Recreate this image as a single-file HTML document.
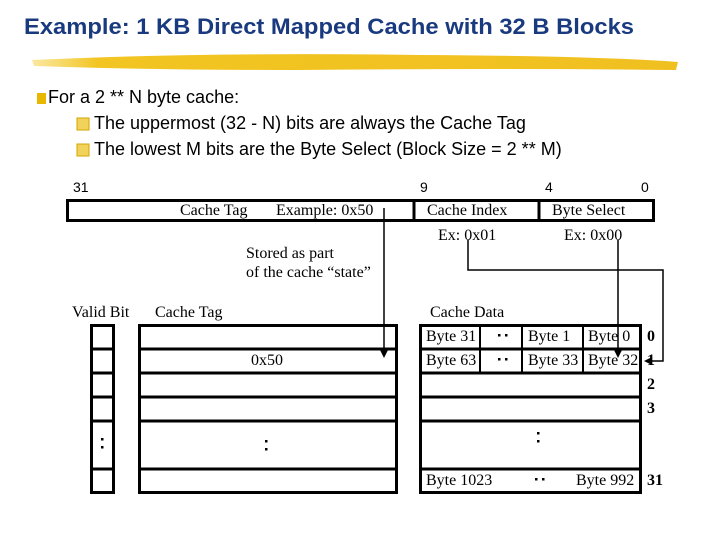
<!DOCTYPE html>
<html><head><meta charset="utf-8"><style>
body{margin:0;background:#fff;}
#c{position:relative;width:720px;height:540px;overflow:hidden;font-family:"Liberation Serif",serif;}
.t{position:absolute;white-space:nowrap;font-size:16px;color:#000;line-height:18px;}
.s{position:absolute;font-family:"Liberation Sans",sans-serif;font-size:18px;white-space:nowrap;}
</style></head><body><div id="c">
<div class="s" style="left:24px;top:14px;font-size:22px;font-weight:bold;color:#1a3a80;transform:scaleX(1.08);transform-origin:left;">Example: 1 KB Direct Mapped Cache with 32 B Blocks</div>
<svg style="position:absolute;left:0;top:0" width="720" height="540">
<defs><linearGradient id="g" x1="0" x2="1"><stop offset="0" stop-color="#f5d040" stop-opacity="0.5"/><stop offset="0.1" stop-color="#f2c522"/><stop offset="1" stop-color="#f0c020"/></linearGradient></defs>
<path d="M32 60 Q200 52 420 55 Q600 56 678 62 L676 70 Q500 68 300 70 Q150 70 34 66 Z" fill="url(#g)"/>
<g fill="none" stroke="#000">
<rect x="67.5" y="200.5" width="586" height="20" stroke-width="3"/>
<line x1="414" y1="200" x2="414" y2="221" stroke-width="3"/>
<line x1="539" y1="200" x2="539" y2="221" stroke-width="3"/>
<line x1="384" y1="208" x2="384" y2="352" stroke-width="1.5"/>
<polyline points="468,240 468,270 663,270 663,361 648,361" stroke-width="1.5"/>
<line x1="618" y1="240" x2="618" y2="352" stroke-width="1.5"/>
<rect x="91.5" y="325.5" width="22" height="167" stroke-width="3"/>
<rect x="139.5" y="325.5" width="257" height="167" stroke-width="3"/>
<rect x="420.5" y="325.5" width="220" height="167" stroke-width="3"/>
<path d="M91 349H113M91 373H113M91 397H113M91 421H113M91 469H113" stroke-width="3"/>
<path d="M139 349H397M139 373H397M139 397H397M139 421H397M139 469H397" stroke-width="3"/>
<path d="M420 349H641M420 373H641M420 397H641M420 421H641M420 469H641" stroke-width="3"/>
<path d="M480 325V373M522 325V373M583 325V373" stroke-width="2"/>
</g>
<g fill="#000">
<polygon points="380,350 388,350 384,358"/>
<polygon points="614,350 622,350 618,358"/>
<polygon points="644,361 652,357 652,365"/>
<rect x="498" y="334" width="2.5" height="2.5"/><rect x="505" y="334" width="2.5" height="2.5"/>
<rect x="498" y="358" width="2.5" height="2.5"/><rect x="505" y="358" width="2.5" height="2.5"/>
<rect x="535" y="478" width="2.5" height="2.5"/><rect x="542" y="478" width="2.5" height="2.5"/>
<rect x="101" y="438" width="2.5" height="2.5"/><rect x="101" y="446" width="2.5" height="2.5"/>
<rect x="265" y="440" width="2.5" height="2.5"/><rect x="265" y="448" width="2.5" height="2.5"/>
<rect x="537" y="432" width="2.5" height="2.5"/><rect x="537" y="440" width="2.5" height="2.5"/>
</g>
<rect x="37" y="93" width="9" height="11" fill="#e8b800"/>
<rect x="77" y="118" width="12" height="12" fill="#f2d35a" stroke="#d4a400"/>
<rect x="77" y="144" width="12" height="12" fill="#f2d35a" stroke="#d4a400"/>
</svg>
<div class="s" style="left:48px;top:87px;">For a 2 ** N byte cache:</div>
<div class="s" style="left:94px;top:113px;">The uppermost (32 - N) bits are always the Cache Tag</div>
<div class="s" style="left:94px;top:139px;">The lowest M bits are the Byte Select (Block Size = 2 ** M)</div>
<div class="s" style="left:73px;top:179px;font-size:14px;">31</div>
<div class="s" style="left:420px;top:179px;font-size:14px;">9</div>
<div class="s" style="left:545px;top:179px;font-size:14px;">4</div>
<div class="s" style="left:641px;top:179px;font-size:14px;">0</div>
<div class="t" style="left:180px;top:202px;">Cache Tag</div>
<div class="t" style="left:276px;top:202px;">Example: 0x50</div>
<div class="t" style="left:427px;top:202px;">Cache Index</div>
<div class="t" style="left:552px;top:202px;">Byte Select</div>
<div class="t" style="left:438px;top:227px;">Ex: 0x01</div>
<div class="t" style="left:564px;top:227px;">Ex: 0x00</div>
<div class="t" style="left:246px;top:245px;">Stored as part</div>
<div class="t" style="left:246px;top:264px;">of the cache “state”</div>
<div class="t" style="left:72px;top:304px;">Valid Bit</div>
<div class="t" style="left:155px;top:304px;">Cache Tag</div>
<div class="t" style="left:430px;top:304px;">Cache Data</div>
<div class="t" style="left:426px;top:328px;">Byte 31</div>
<div class="t" style="left:528px;top:328px;">Byte 1</div>
<div class="t" style="left:588px;top:328px;">Byte 0</div>
<div class="t" style="left:426px;top:352px;">Byte 63</div>
<div class="t" style="left:528px;top:352px;">Byte 33</div>
<div class="t" style="left:588px;top:352px;">Byte 32</div>
<div class="t" style="left:251px;top:352px;">0x50</div>
<div class="t" style="left:426px;top:472px;">Byte 1023</div>
<div class="t" style="left:576px;top:472px;">Byte 992</div>
<div class="t" style="left:647px;top:328px;font-weight:bold;">0</div>
<div class="t" style="left:647px;top:352px;font-weight:bold;">1</div>
<div class="t" style="left:647px;top:376px;font-weight:bold;">2</div>
<div class="t" style="left:647px;top:400px;font-weight:bold;">3</div>
<div class="t" style="left:647px;top:472px;font-weight:bold;">31</div>
</div></body></html>
